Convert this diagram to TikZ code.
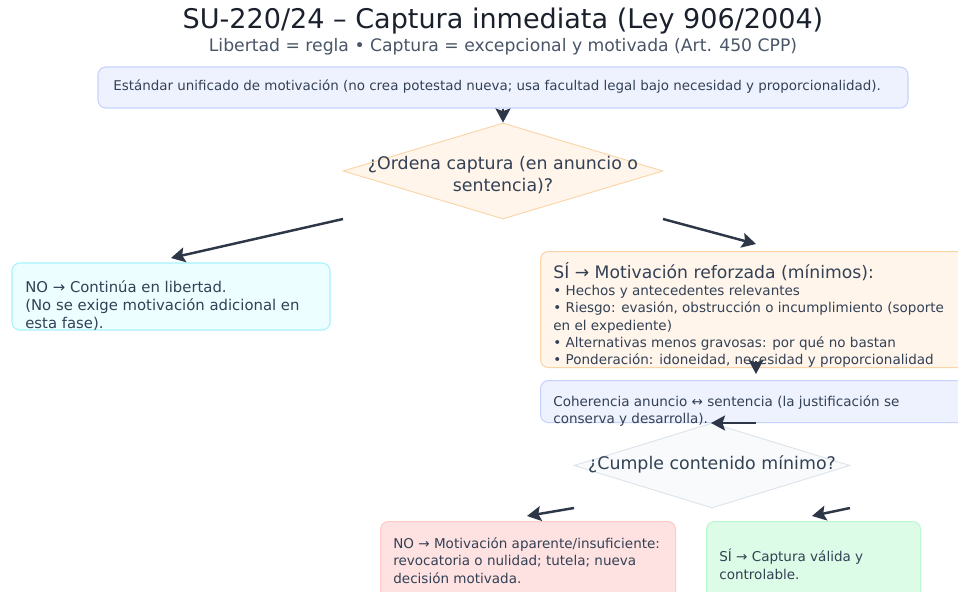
\documentclass[tikz,border=0pt]{standalone}
\usepackage{fontspec}
\setmainfont{DejaVu Sans}
\usetikzlibrary{arrows.meta,shapes.geometric}
\definecolor{arrowc}{HTML}{2D3748}
\definecolor{textc}{HTML}{334155}
\definecolor{titlec}{HTML}{1A202C}
\definecolor{subc}{HTML}{4A5568}
\definecolor{indfill}{HTML}{EEF2FF}
\definecolor{inddraw}{HTML}{C7D2FE}
\definecolor{orfill}{HTML}{FFF5EB}
\definecolor{ordraw}{HTML}{FBD3A5}
\definecolor{cyfill}{HTML}{ECFEFF}
\definecolor{cydraw}{HTML}{A5F3FC}
\definecolor{slfill}{HTML}{F8FAFC}
\definecolor{sldraw}{HTML}{DDE3EC}
\definecolor{rdfill}{HTML}{FEE2E2}
\definecolor{rddraw}{HTML}{FECACA}
\definecolor{grfill}{HTML}{DCFCE7}
\definecolor{grdraw}{HTML}{BBF7D0}
\tikzset{
  boxst/.style={draw, line width=0.6pt, rounded corners=4.5pt, inner sep=0pt},
  diast/.style={draw, line width=0.5pt, inner sep=0pt},
  txt/.style={inner sep=0pt, anchor=north west, align=left, text=textc},
  small/.style={font=\fontsize{7.7}{9.8}\selectfont},
  conn/.style={draw=arrowc, line width=1.4pt, -{Stealth[length=8pt,width=8.5pt,inset=1.5pt]}},
}
\begin{document}
\begin{tikzpicture}[x=0.02cm,y=-0.02cm]
\clip (0,0) rectangle (958,592);
\fill[white] (0,0) rectangle (958,592);
% title
\node[text=titlec, font=\fontsize{15.4}{18}\selectfont] (title) at (503,21) {SU-220/24 – Captura inmediata (Ley 906/2004)};
\node[text=subc, font=\fontsize{9.8}{11}\selectfont] (sub) at (503,47) {Libertad = regla • Captura = excepcional y motivada (Art. 450 CPP)};
% box 1
\node[boxst, fill=indfill, draw=inddraw, minimum width=810*0.02cm, minimum height=41*0.02cm] (b1) at (503,87.5) {};
\node[txt, anchor=west, font=\fontsize{7.65}{9}\selectfont] (b1t) at (113,87) {Estándar unificado de motivación (no crea potestad nueva; usa facultad legal bajo necesidad y proporcionalidad).};
% diamond 1
\node[diast, diamond, aspect=3.33, fill=orfill, draw=ordraw, minimum width=320*0.02cm, minimum height=96*0.02cm] (d1) at (503,171) {};
\node[text=textc, align=center, font=\fontsize{9.9}{12}\selectfont] (d1t) at (503,175) {¿Ordena captura (en anuncio o\\sentencia)?};
% left box
\node[boxst, fill=cyfill, draw=cydraw, minimum width=318*0.02cm, minimum height=67*0.02cm] (nob) at (171,296.5) {};
\node[txt, font=\fontsize{8.45}{10.2}\selectfont] (nobt) at (25,280) {NO → Continúa en libertad.\\(No se exige motivación adicional en\\esta fase).};
% right box SI
\node[boxst, fill=orfill, draw=ordraw, minimum width=440*0.02cm, minimum height=116*0.02cm, anchor=north west] (sib) at (540,251) {};
\node[txt, font=\fontsize{9.8}{11}\selectfont] (sibh) at (553,262) {SÍ → Motivación reforzada (mínimos):};
\node[txt, small] (sibt) at (553,285) {• Hechos y antecedentes relevantes\\• Riesgo: evasión, obstrucción o incumplimiento (soporte\\en el expediente)\\• Alternativas menos gravosas: por qué no bastan\\• Ponderación: idoneidad, necesidad y proporcionalidad};
% coherencia
\node[boxst, fill=indfill, draw=inddraw, minimum width=440*0.02cm, minimum height=42*0.02cm, anchor=north west] (coh) at (540,380) {};
\node[txt, small] (coht) at (553,395) {Coherencia anuncio ↔ sentencia (la justificación se\\conserva y desarrolla).};
% diamond 2
\node[diast, diamond, aspect=3.25, fill=slfill, draw=sldraw, minimum width=276*0.02cm, minimum height=85*0.02cm] (d2) at (712,465.5) {};
\node[text=textc, font=\fontsize{9.9}{12}\selectfont] (d2t) at (712,464) {¿Cumple contenido mínimo?};
% bottom boxes
\node[boxst, fill=rdfill, draw=rddraw, minimum width=295*0.02cm, minimum height=80*0.02cm, anchor=north west] (fb) at (380,521) {};
\node[txt, small] (fbt) at (393,537.5) {NO → Motivación aparente/insuficiente:\\revocatoria o nulidad; tutela; nueva\\decisión motivada.};
\node[boxst, fill=grfill, draw=grdraw, minimum width=214*0.02cm, minimum height=80*0.02cm, anchor=north west] (vb) at (706,521) {};
\node[txt, small] (vbt) at (719,549) {SÍ → Captura válida y\\controlable.};
% connector coordinates
\coordinate (c1a) at (343,219);
\coordinate (c1b) at (171,258);
\coordinate (c2a) at (663,219);
\coordinate (c2b) at (756,244);
\coordinate (c3a) at (756,361);
\coordinate (c3b) at (756,374);
\coordinate (c4a) at (756,423);
\coordinate (c4b) at (711,423);
\coordinate (c5a) at (574,508);
\coordinate (c5b) at (527,516);
\coordinate (c6a) at (850,508);
\coordinate (c6b) at (812,516);
% connectors
\draw[conn] (b1.south) -- (d1.north);
\draw[conn] (c1a) -- (c1b);
\draw[conn] (c2a) -- (c2b);
\draw[conn] (c3a) -- (c3b);
\draw[conn] (c4a) -- (c4b);
\draw[conn] (c5a) -- (c5b);
\draw[conn] (c6a) -- (c6b);
\end{tikzpicture}
\end{document}
